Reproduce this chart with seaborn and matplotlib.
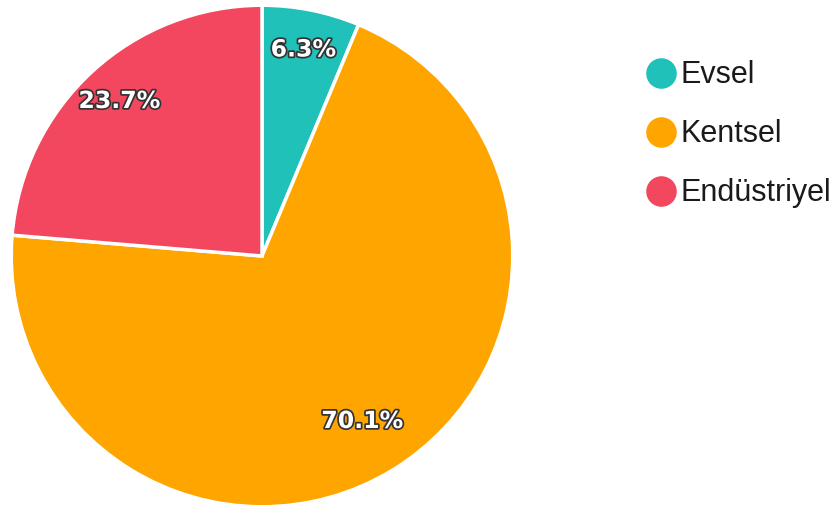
import matplotlib
matplotlib.use("Agg")
import matplotlib.pyplot as plt
import matplotlib.patheffects as pe
from matplotlib.lines import Line2D
import numpy as np
import seaborn as sns

categories = ["Evsel", "Kentsel", "Endüstriyel"]
values = [6.3, 70.1, 23.7]
colors = ["#1fc1b8", "#ffa500", "#f3475f"]

sns.set_theme(style="white")
plt.rcParams['font.family'] = ['Liberation Sans', 'DejaVu Sans']

fig = plt.figure(figsize=(8.34, 5.12), dpi=100)
ax = fig.add_axes([10/834, 4/512, 504/834, 504/512])
wedges, texts, autotexts = ax.pie(
    values, colors=colors, startangle=90, counterclock=False,
    autopct=lambda p: f"{p:.1f}%", pctdistance=0.84,
    wedgeprops=dict(edgecolor="white", linewidth=2.5),
    textprops=dict(color="white", fontsize=17, fontweight="bold", family="DejaVu Sans"),
)
ax.set_aspect("equal")
ax.set_xlim(-1.005, 1.005)
ax.set_ylim(-1.005, 1.005)
for t, lab in zip(autotexts, values):
    t.set_text(f"{lab:.1f}%")
    t.set_path_effects([pe.withStroke(linewidth=2.5, foreground="#333333")])
w = wedges[1]
mid = np.deg2rad((w.theta1 + w.theta2) / 2)
autotexts[1].set_position((0.77*np.cos(mid), 0.77*np.sin(mid)))

handles = [Line2D([0], [0], marker='o', linestyle='', markersize=21,
                  markerfacecolor=c, markeredgecolor=c) for c in colors]
fig.legend(handles, categories, loc="upper left", bbox_to_anchor=(630/834, 1-48/512),
           frameon=False, fontsize=22, handletextpad=0.05, labelspacing=0.95,
           borderaxespad=0, handlelength=1.2, labelcolor="#1a1a1a")
fig.savefig("out.png", dpi=100, facecolor="white")
